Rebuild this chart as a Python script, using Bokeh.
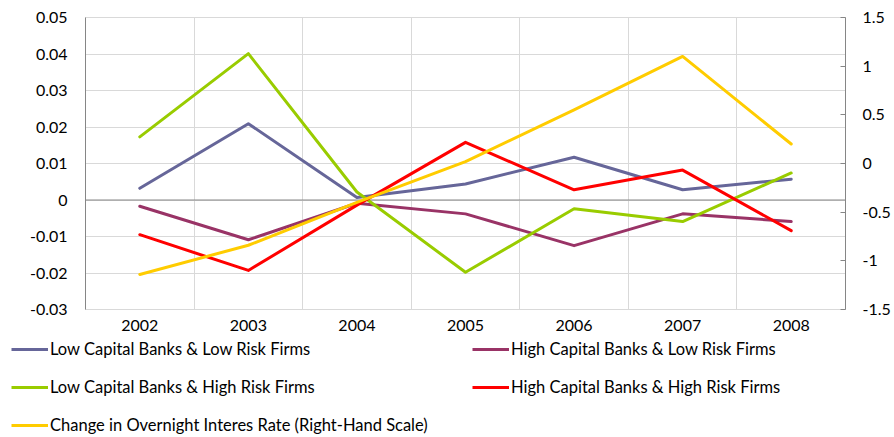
from bokeh.plotting import figure
from bokeh.models import (ColumnDataSource, Range1d, LinearAxis, FixedTicker,
                          Span, Legend, LegendItem)
from bokeh.layouts import column, row
from bokeh.embed import file_html
from bokeh.resources import INLINE

# ---- data ----
years = ["2002", "2003", "2004", "2005", "2006", "2007", "2008"]
low_cap_low_risk = [0.0032, 0.0209, 0.0007, 0.0044, 0.0117, 0.0028, 0.0057]
high_cap_low_risk = [-0.0017, -0.0109, -0.0009, -0.0038, -0.0125, -0.0038, -0.0059]
low_cap_high_risk = [0.0173, 0.0401, 0.0022, -0.0198, -0.0024, -0.0059, 0.0074]
high_cap_high_risk = [-0.0095, -0.0193, -0.0014, 0.0158, 0.0028, 0.0082, -0.0084]
overnight_rate_change = [-1.14, -0.84, -0.40, 0.02, 0.55, 1.10, 0.20]

left_ticks = [-0.03, -0.02, -0.01, 0.0, 0.01, 0.02, 0.03, 0.04, 0.05]
left_labels = ["-0.03", "-0.02", "-0.01", "0", "0.01", "0.02", "0.03", "0.04", "0.05"]
right_ticks = [-1.5, -1.0, -0.5, 0.0, 0.5, 1.0, 1.5]
right_labels = ["-1.5", "-1", "-0.5", "0", "0.5", "1", "1.5"]

series_names = [
    "Low Capital Banks & Low Risk Firms",
    "High Capital Banks & Low Risk Firms",
    "Low Capital Banks & High Risk Firms",
    "High Capital Banks & High Risk Firms",
    "Change in Overnight Interes Rate (Right-Hand Scale)",
]
colors = ["#666699", "#993366", "#99CC00", "#FF0000", "#FFCC00"]
cols = ["ll", "hl", "lh", "hh", "rate"]

x_pos = [i + 0.5 for i in range(len(years))]
src = ColumnDataSource(dict(
    x=x_pos,
    ll=low_cap_low_risk,
    hl=high_cap_low_risk,
    lh=low_cap_high_risk,
    hh=high_cap_high_risk,
    rate=overnight_rate_change,
))

FONT = "Lato"
TICK_SIZE = "16px"
AX = "#868686"
GRID = "#d9d9d9"

p = figure(width=894, height=338, output_backend="svg", toolbar_location=None,
           x_range=Range1d(0, len(years)), y_range=Range1d(-0.03, 0.05),
           min_border_left=85, min_border_right=49, min_border_top=17,
           min_border_bottom=29)
p.outline_line_color = GRID
p.border_fill_color = "white"

# y axis (left)
ya = p.yaxis[0]
ya.ticker = FixedTicker(ticks=left_ticks)
ya.major_label_overrides = {t: l for t, l in zip(left_ticks, left_labels)}
ya.major_tick_out = 0
ya.major_tick_in = 0
ya.minor_tick_out = 0
ya.minor_tick_in = 0
ya.major_label_standoff = 18
ya.axis_line_color = AX
ya.major_label_text_font = FONT
ya.major_label_text_font_size = TICK_SIZE
ya.major_label_text_color = "black"

# x axis (bottom)
xa = p.xaxis[0]
xa.ticker = FixedTicker(ticks=x_pos)
xa.major_label_overrides = {x: y for x, y in zip(x_pos, years)}
xa.major_tick_out = 0
xa.major_tick_in = 0
xa.minor_tick_out = 0
xa.minor_tick_in = 0
xa.major_label_standoff = 10
xa.axis_line_color = GRID
xa.major_label_text_font = FONT
xa.major_label_text_font_size = TICK_SIZE
xa.major_label_text_color = "black"

# grids
p.ygrid.ticker = FixedTicker(ticks=left_ticks)
p.ygrid.grid_line_color = GRID
p.xgrid.ticker = FixedTicker(ticks=list(range(1, len(years))))
p.xgrid.grid_line_color = GRID

# right axis
p.extra_y_ranges = {"right": Range1d(-1.5, 1.5)}
ra = LinearAxis(y_range_name="right", ticker=FixedTicker(ticks=right_ticks))
ra.major_label_overrides = {t: l for t, l in zip(right_ticks, right_labels)}
ra.major_tick_out = 0
ra.major_tick_in = 5
ra.major_tick_line_color = AX
ra.minor_tick_out = 0
ra.minor_tick_in = 0
ra.major_label_standoff = 17
ra.axis_line_color = AX
ra.major_label_text_font = FONT
ra.major_label_text_font_size = TICK_SIZE
ra.major_label_text_color = "black"
p.add_layout(ra, "right")

# horizontal axis line at zero
p.add_layout(Span(location=0, dimension="width", line_color=AX, line_width=1,
                  level="underlay"))

kw = dict(line_width=3, line_join="round", line_cap="round")
for i in range(4):
    p.line("x", cols[i], source=src, line_color=colors[i], **kw)
p.line("x", "rate", source=src, line_color=colors[4], y_range_name="right", **kw)

# ---- legend panel (separate figure below the chart) ----
lf = figure(width=894, height=99, output_backend="svg", toolbar_location=None,
            x_axis_type=None, y_axis_type=None,
            x_range=Range1d(100, 101), y_range=Range1d(100, 101),
            min_border_left=0, min_border_right=0, min_border_top=0,
            min_border_bottom=0)
lf.outline_line_color = None
lf.xgrid.visible = False
lf.ygrid.visible = False

# legend glyph renderers share the chart data (kept outside this panel's view)
legend_renderers = [lf.line("x", cols[i], source=src, line_color=colors[i], line_width=3)
                    for i in range(5)]


def make_legend(idx, loc):
    items = [LegendItem(label=series_names[i], renderers=[legend_renderers[i]])
             for i in idx]
    return Legend(items=items, location=loc, orientation="vertical",
                  glyph_width=37, glyph_height=20, label_height=20,
                  label_standoff=2, spacing=18, padding=0, margin=0,
                  border_line_color=None, background_fill_alpha=0,
                  label_text_font=FONT, label_text_font_size="16.5px",
                  label_text_color="black")


lf.add_layout(make_legend([0, 2, 4], (11, 2)))
lf.add_layout(make_legend([1, 3], (472, 40)))

layout = column(p, row(lf), spacing=0)
open("out.html", "w").write(file_html(layout, INLINE))
